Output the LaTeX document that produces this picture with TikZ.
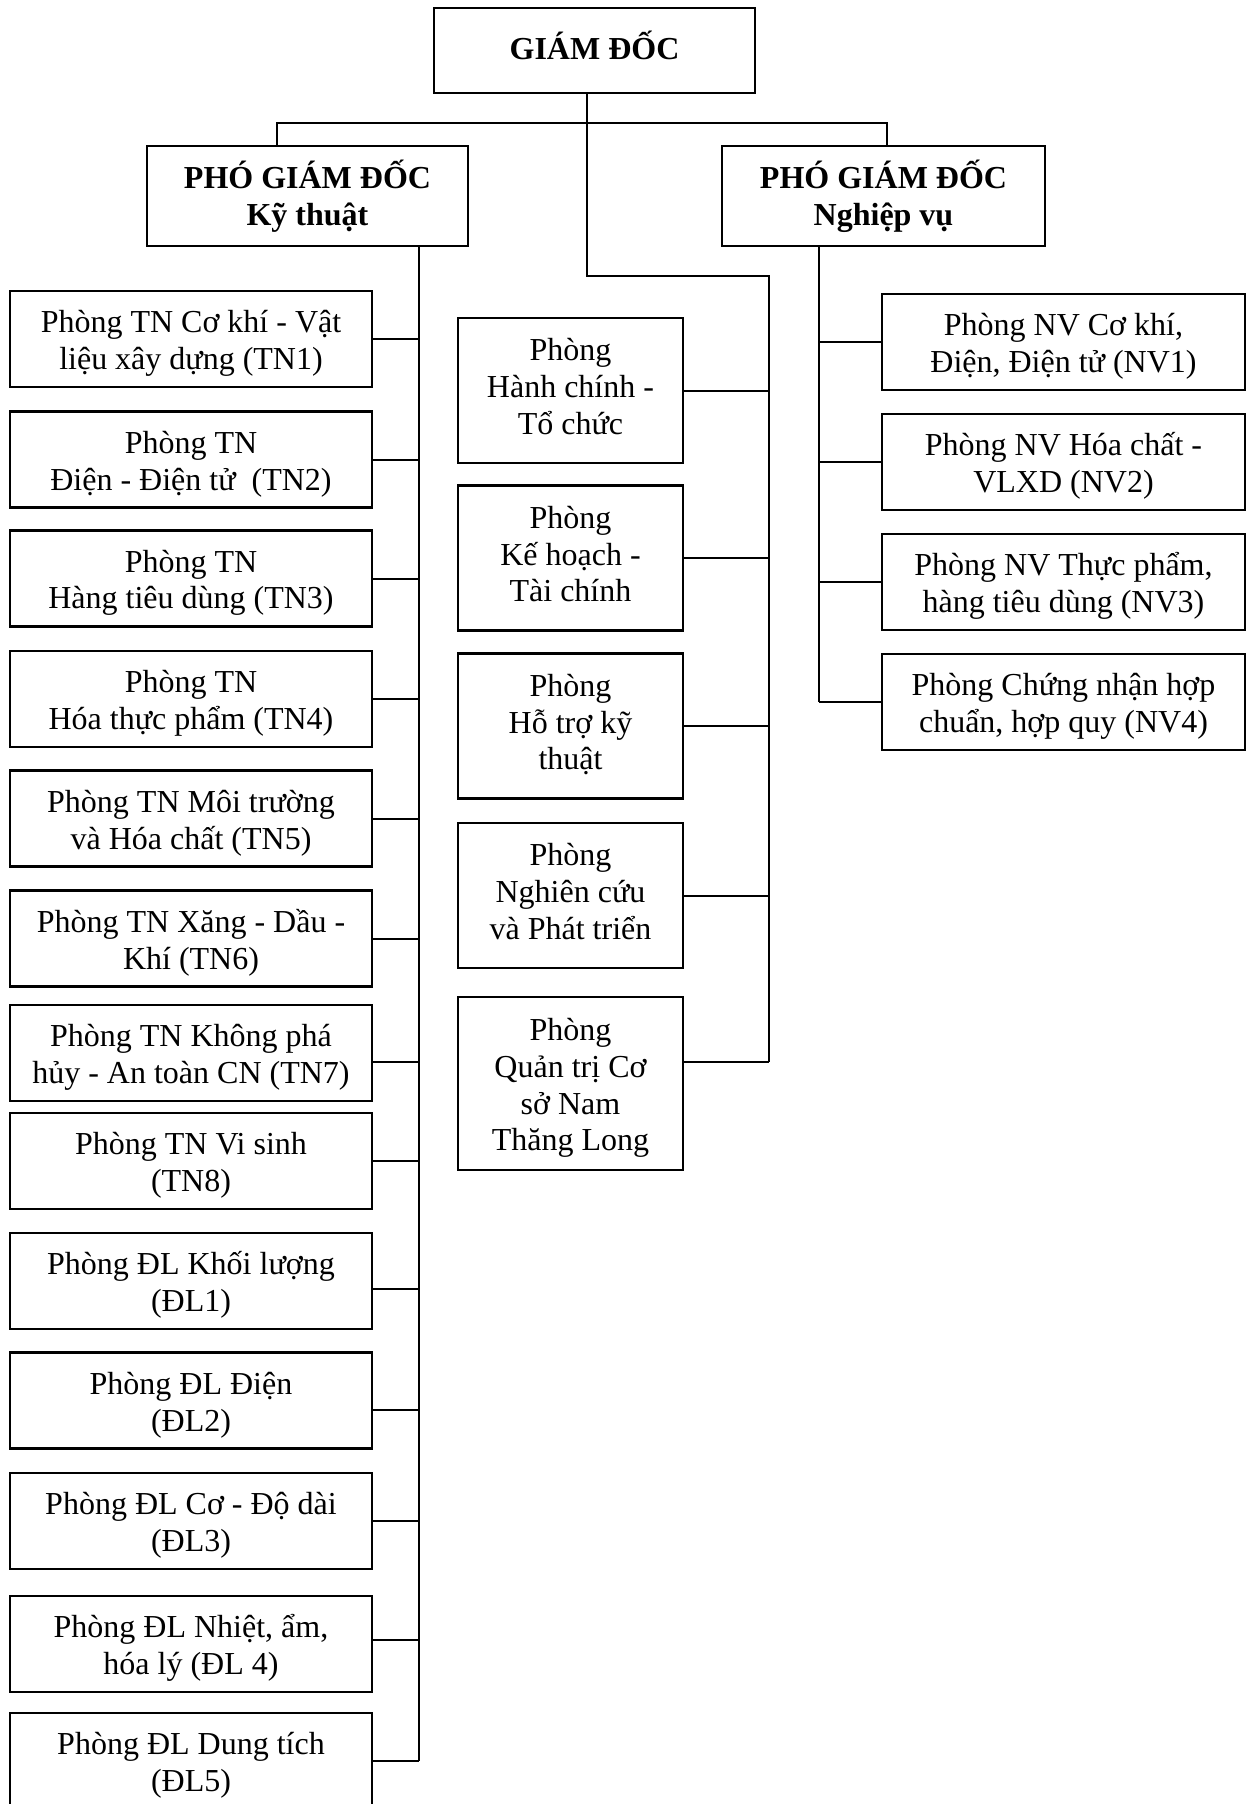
\documentclass[tikz,border=0pt]{standalone}
\usepackage{fontspec}
\setmainfont{Liberation Serif}
\newcommand{\boxtop}[1][15.5pt]{\rule{0pt}{#1}}

\begin{document}
\begin{tikzpicture}[x=0.5pt, y=-0.5pt,
    font=\fontsize{16}{18.4}\selectfont,
    box/.style={draw, line width=1.4pt, align=center, inner sep=0pt},
    chief/.style={box, font=\fontsize{16}{18.4}\selectfont\bfseries, minimum width=160.5pt},
    lab/.style={box, minimum width=181pt, minimum height=48pt},
    dept/.style={box, minimum width=112.5pt, minimum height=72.5pt,
      execute at end node={\rule[-4pt]{0pt}{4pt}}},
    biz/.style={box, minimum width=181.5pt, minimum height=48pt},
    link/.style={line width=1pt}]

    \useasboundingbox (0,0) rectangle (1253,1804);

    % --- Board ---
    \node[chief, minimum height=42.5pt, text depth=5.7pt] (GD) at (594.5,50.5) {GIÁM ĐỐC};
    \node[chief, minimum height=50pt] (PKT) at (307.5,196) {PHÓ GIÁM ĐỐC\\Kỹ thuật};
    \node[chief, minimum width=161.5pt, minimum height=50pt] (PNV) at (883.5,196) {PHÓ GIÁM ĐỐC\\Nghiệp vụ};

    \coordinate (jn) at (587,123);
    \coordinate (topL) at (277,123);
    \coordinate (topR) at (887,123);
    \draw[link] (PKT.north -| topL) -- (topL) -- (topR) -- (PNV.north -| topR);

    % --- Labs (left column) ---
    \node[lab] (TN1) at (191,339) {\boxtop Phòng TN Cơ khí - Vật\\liệu xây dựng (TN1)};
    \node[lab] (TN2) at (191,459.5) {\boxtop Phòng TN\\Điện - Điện tử\ \ (TN2)};
    \node[lab] (TN3) at (191,578.5) {\boxtop Phòng TN\\Hàng tiêu dùng (TN3)};
    \node[lab] (TN4) at (191,699) {\boxtop Phòng TN\\Hóa thực phẩm (TN4)};
    \node[lab] (TN5) at (191,818.5) {\boxtop Phòng TN Môi trường\\và Hóa chất (TN5)};
    \node[lab] (TN6) at (191,938.5) {\boxtop Phòng TN Xăng - Dầu -\\Khí (TN6)};
    \node[lab] (TN7) at (191,1053) {\boxtop Phòng TN Không phá\\hủy - An toàn CN (TN7)};
    \node[lab] (TN8) at (191,1161) {\boxtop Phòng TN Vi sinh\\(TN8)};
    \node[lab] (DL1) at (191,1281) {\boxtop Phòng ĐL Khối lượng\\(ĐL1)};
    \node[lab] (DL2) at (191,1400.5) {\boxtop Phòng ĐL Điện\\(ĐL2)};
    \node[lab] (DL3) at (191,1521) {\boxtop Phòng ĐL Cơ - Độ dài\\(ĐL3)};
    \node[lab] (DL4) at (191,1644) {\boxtop Phòng ĐL Nhiệt, ẩm,\\hóa lý (ĐL 4)};
    \node[lab] (DL5) at (191,1761) {\boxtop Phòng ĐL Dung tích\\(ĐL5)};

    \coordinate (busL) at (419,246);
    \draw[link] (busL |- PKT.south) -- (busL |- DL5.east);
    \draw[link] (TN1.east) -- (TN1.east -| busL);
    \draw[link] (TN2.east) -- (TN2.east -| busL);
    \draw[link] (TN3.east) -- (TN3.east -| busL);
    \draw[link] (TN4.east) -- (TN4.east -| busL);
    \draw[link] (TN5.east) -- (TN5.east -| busL);
    \draw[link] (TN6.east) -- (TN6.east -| busL);
    \draw[link] ([yshift=-4.5pt]TN7.east) -- ([yshift=-4.5pt]TN7.east -| busL);
    \draw[link] (TN8.east) -- (TN8.east -| busL);
    \draw[link] ([yshift=-4pt]DL1.east) -- ([yshift=-4pt]DL1.east -| busL);
    \draw[link] ([yshift=-4.75pt]DL2.east) -- ([yshift=-4.75pt]DL2.east -| busL);
    \draw[link] (DL3.east) -- (DL3.east -| busL);
    \draw[link] ([yshift=2pt]DL4.east) -- ([yshift=2pt]DL4.east -| busL);
    \draw[link] (DL5.east) -- (DL5.east -| busL);

    % --- Offices (middle column) ---
    \node[dept] (HC) at (570.5,390.5) {Phòng\\Hành chính -\\Tổ chức};
    \node[dept] (KH) at (570.5,558) {Phòng\\Kế hoạch -\\Tài chính};
    \node[dept] (HT) at (570.5,726) {Phòng\\Hỗ trợ kỹ\\thuật};
    \node[dept] (NC) at (570.5,895.5) {Phòng\\Nghiên cứu\\và Phát triển};
    \node[dept, minimum height=86.5pt] (QT) at (570.5,1083.5)
      {\boxtop[16.2pt]Phòng\\Quản trị Cơ\\sở Nam\\Thăng Long};

    \coordinate (busM) at (769,276);
    \coordinate (QTc) at ([yshift=10.75pt]QT.east);
    \draw[link] (GD.south -| jn) -- (jn |- busM) -- (busM) -- (busM |- QTc);
    \draw[link] (HC.east) -- (HC.east -| busM);
    \draw[link] (KH.east) -- (KH.east -| busM);
    \draw[link] (HT.east) -- (HT.east -| busM);
    \draw[link] (NC.east) -- (NC.east -| busM);
    \draw[link] (QTc) -- (QTc -| busM);

    % --- Business (right column) ---
    \node[biz] (NV1) at (1063.5,342) {\boxtop Phòng NV Cơ khí,\\Điện, Điện tử (NV1)};
    \node[biz] (NV2) at (1063.5,462) {\boxtop Phòng NV Hóa chất -\\VLXD (NV2)};
    \node[biz] (NV3) at (1063.5,582) {\boxtop Phòng NV Thực phẩm,\\hàng tiêu dùng (NV3)};
    \node[biz] (NV4) at (1063.5,702) {\boxtop Phòng Chứng nhận hợp\\chuẩn, hợp quy (NV4)};

    \coordinate (busR) at (819,246);
    \draw[link] (busR |- PNV.south) -- (busR |- NV4.west);
    \draw[link] (NV1.west) -- (NV1.west -| busR);
    \draw[link] (NV2.west) -- (NV2.west -| busR);
    \draw[link] (NV3.west) -- (NV3.west -| busR);
    \draw[link] (NV4.west) -- (NV4.west -| busR);

\end{tikzpicture}
\end{document}
